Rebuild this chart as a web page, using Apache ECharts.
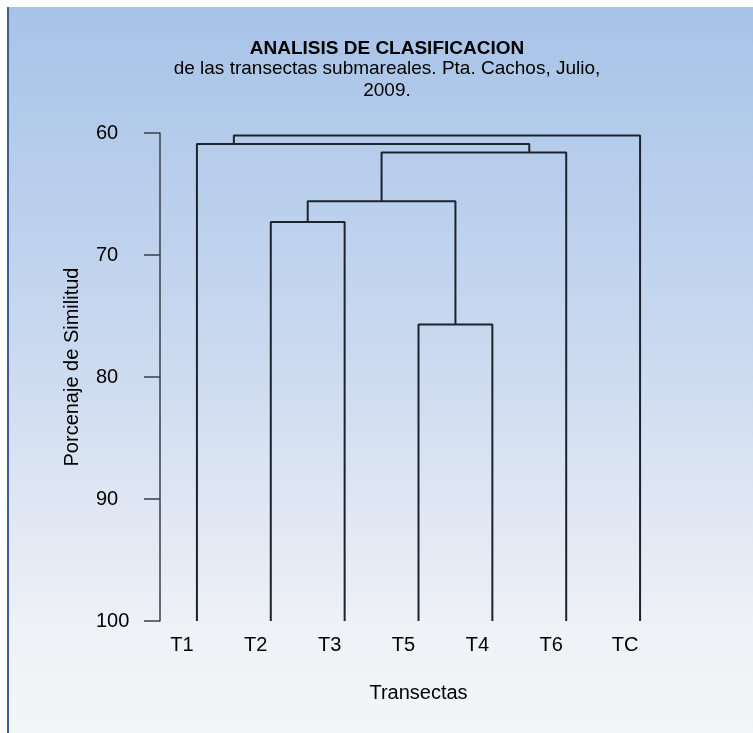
<!DOCTYPE html>
<html>
<head>
    <meta charset="utf-8">
    <script src="https://cdn.jsdelivr.net/npm/echarts@6/dist/echarts.min.js"></script>
    <style>
        html, body { margin: 0; padding: 0; background: #fff; }
        #main { width: 753px; height: 733px; }
    </style>
</head>
<body>
    <div id="main"></div>
    <script>
        // leaves of the dendrogram, in drawing order
        var leaves = ['T1', 'T2', 'T3', 'T5', 'T4', 'T6', 'TC'];
        var yTicks = [60, 70, 80, 90, 100];

        // merges: node ids 0..6 are leaves, merge k gets id 7 + k
        var mergeChildren = [[1, 2], [3, 4], [7, 8], [9, 5], [0, 10], [11, 6]];
        var mergeHeight = [67.3, 75.7, 65.6, 61.6, 60.9, 60.2];
        // x (in category units) where the link to the parent leaves each merge
        var mergePos = [1.5, 3.5, 2.5, 4.5, 0.5, 3.0];

        var font = 'Liberation Sans, Arial, sans-serif';

        function nodeX(id) {
            return id < leaves.length ? id : mergePos[id - leaves.length];
        }
        function nodeY(id) {
            return id < leaves.length ? 100 : mergeHeight[id - leaves.length];
        }

        var series = mergeChildren.map(function (ch, k) {
            var h = mergeHeight[k];
            var a = ch[0], b = ch[1];
            return {
                type: 'line',
                xAxisIndex: 1,
                symbol: 'none',
                silent: true,
                animation: false,
                lineStyle: { color: '#1d2430', width: 2 },
                data: [
                    [nodeX(a), nodeY(a)],
                    [nodeX(a), h],
                    [nodeX(b), h],
                    [nodeX(b), nodeY(b)]
                ]
            };
        });

        var chart = echarts.init(document.getElementById('main'));

        var option = {
            backgroundColor: '#fff',
            animation: false,
            graphic: [
                {
                    type: 'rect',
                    z: -10,
                    shape: { x: 8, y: 7, width: 745, height: 726 },
                    style: {
                        fill: new echarts.graphic.LinearGradient(0, 0, 0, 1, [
                            { offset: 0, color: '#a7c3e8' },
                            { offset: 0.45, color: '#c8d8ef' },
                            { offset: 0.85, color: '#eef1f6' },
                            { offset: 1, color: '#f4f5f7' }
                        ])
                    }
                },
                {
                    type: 'line',
                    z: -9,
                    shape: { x1: 8, y1: 7, x2: 8, y2: 733 },
                    style: { stroke: '#3b5f99', lineWidth: 2 }
                }
            ],
            title: {
                left: 382,
                top: 34,
                textAlign: 'center',
                text: 'ANALISIS DE CLASIFICACION',
                subtext: 'de las transectas submareales. Pta. Cachos, Julio,\n2009.',
                itemGap: 0,
                textStyle: {
                    fontFamily: font,
                    fontSize: 19,
                    fontWeight: 'bold',
                    color: '#000'
                },
                subtextStyle: {
                    fontFamily: font,
                    fontSize: 19,
                    lineHeight: 22,
                    color: '#000'
                }
            },
            grid: {
                left: 160,
                right: 76,
                top: 133,
                bottom: 112
            },
            xAxis: [
                {
                    type: 'category',
                    data: leaves,
                    axisLine: { show: false },
                    axisTick: { show: false },
                    axisLabel: {
                        margin: 14,
                        padding: [0, 30, 0, 0],
                        fontFamily: font,
                        fontSize: 20,
                        color: '#000'
                    },
                    name: 'Transectas',
                    nameLocation: 'middle',
                    nameGap: 62,
                    nameTextStyle: {
                        fontFamily: font,
                        fontSize: 20,
                        color: '#000'
                    }
                },
                {
                    type: 'value',
                    min: -0.5,
                    max: 6.5,
                    show: false
                }
            ],
            yAxis: {
                type: 'value',
                inverse: true,
                min: 60,
                max: 100,
                interval: 10,
                splitLine: { show: false },
                axisLine: { show: true, onZero: false, lineStyle: { color: '#3a3f47', width: 1.5 } },
                axisTick: { show: true, length: 16, lineStyle: { color: '#3a3f47', width: 1.5 } },
                axisLabel: {
                    align: 'left',
                    margin: 64,
                    fontFamily: font,
                    fontSize: 20,
                    color: '#000',
                    padding: [0, 0, 6, 0],
                    customValues: yTicks
                },
                name: 'Porcenaje de Similitud',
                nameLocation: 'middle',
                nameGap: 78,
                nameTextStyle: {
                    fontFamily: font,
                    fontSize: 20,
                    color: '#000',
                    padding: [0, 0, 0, 20]
                }
            },
            series: series
        };

        chart.setOption(option);
    </script>
</body>
</html>
